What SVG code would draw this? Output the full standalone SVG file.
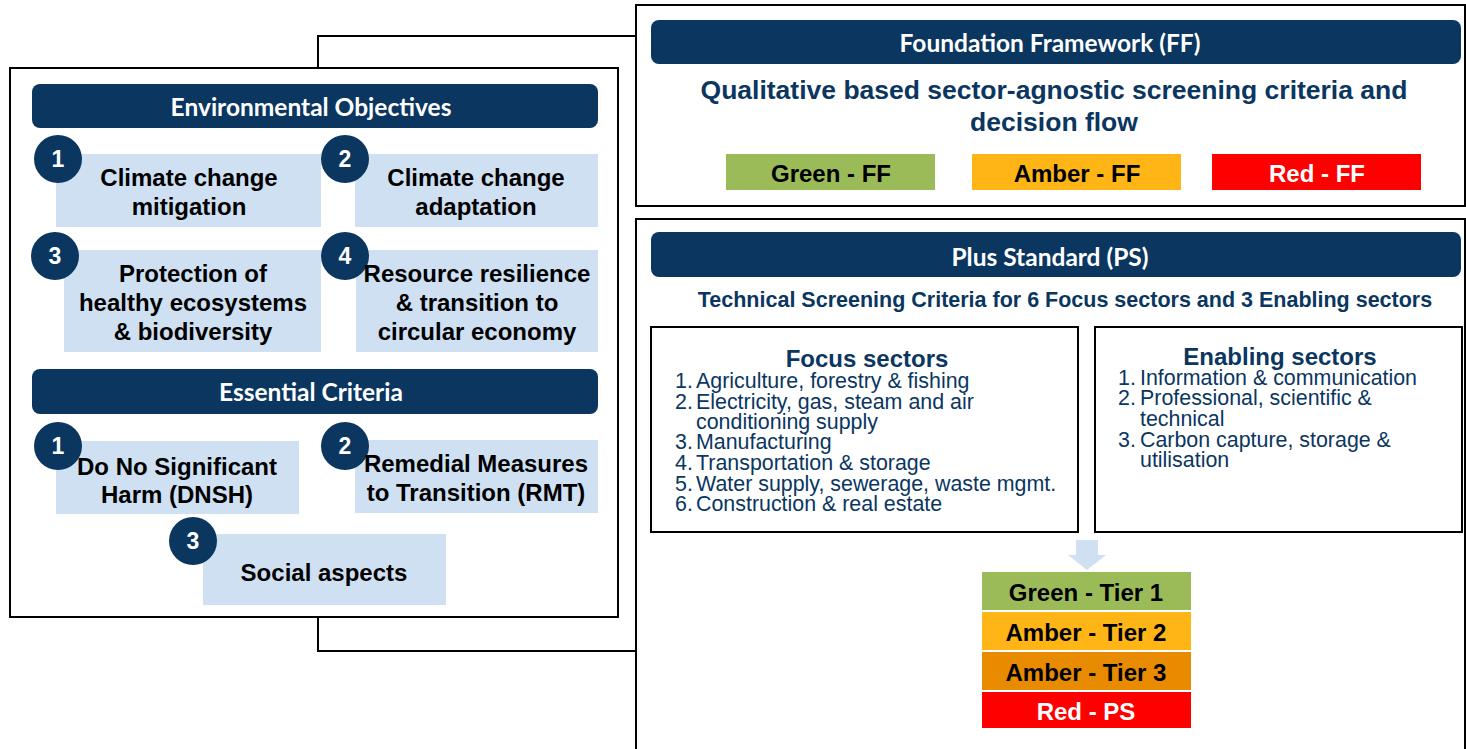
<svg xmlns="http://www.w3.org/2000/svg" width="1466" height="749" viewBox="0 0 1466 749">
<defs>
<style>
.frame{fill:#fff;stroke:#000;stroke-width:2}
.hdr{fill:#0a365f}
.hdrt{font-family:Lato,"Open Sans",sans-serif;font-weight:700;font-size:24.5px;fill:#fff;text-anchor:middle;dominant-baseline:central}
.lb{fill:#cfe0f2}
.num{fill:#0a365f}
.numt{font-family:"Liberation Sans",Arial,sans-serif;font-weight:700;font-size:23px;fill:#fff;text-anchor:middle;dominant-baseline:central}
.bt{font-family:"Liberation Sans",Arial,sans-serif;font-weight:700;font-size:24px;fill:#000;text-anchor:middle;dominant-baseline:central}
.nv{font-family:"Liberation Sans",Arial,sans-serif;font-weight:700;fill:#0a365f;text-anchor:middle;dominant-baseline:central}
.li{font-family:"Liberation Sans",Arial,sans-serif;font-size:21.4px;fill:#0a365f;dominant-baseline:central}
.tt{font-family:"Liberation Sans",Arial,sans-serif;font-weight:700;font-size:24px;text-anchor:middle;dominant-baseline:central}
.conn{fill:none;stroke:#000;stroke-width:2}
</style>
</defs>
<rect width="1466" height="749" fill="#fff"/>

<g id="connectors">
<polyline class="conn" points="318,68 318,36 636,36"/>
<polyline class="conn" points="318,617 318,651 636,651"/>
</g>

<g id="left-panel">
<rect class="frame" x="10" y="68" width="608" height="549"/>
</g>

<g id="env-objectives-header">
<rect class="hdr" x="32" y="84" width="566" height="44" rx="8"/>
<text class="hdrt" x="311" y="106">Environmental Objectives</text>
</g>

<g id="eo1">
<rect class="lb" x="56" y="154" width="265" height="73"/>
<circle class="num" cx="58" cy="159" r="24"/>
<text class="numt" x="58" y="159">1</text>
<text class="bt" x="189" y="177">Climate change</text>
<text class="bt" x="189" y="206">mitigation</text>
</g>

<g id="eo2">
<rect class="lb" x="355" y="154" width="243" height="73"/>
<circle class="num" cx="345" cy="159" r="24"/>
<text class="numt" x="345" y="159">2</text>
<text class="bt" x="476" y="177">Climate change</text>
<text class="bt" x="476" y="206">adaptation</text>
</g>

<g id="eo3">
<rect class="lb" x="64" y="250" width="257" height="102"/>
<circle class="num" cx="55" cy="256" r="24"/>
<text class="numt" x="55" y="256">3</text>
<text class="bt" x="193" y="273">Protection of</text>
<text class="bt" x="193" y="302">healthy ecosystems</text>
<text class="bt" x="193" y="331">&amp; biodiversity</text>
</g>

<g id="eo4">
<rect class="lb" x="356" y="250" width="242" height="102"/>
<circle class="num" cx="345" cy="256" r="24"/>
<text class="numt" x="345" y="256">4</text>
<text class="bt" x="477" y="273">Resource resilience</text>
<text class="bt" x="477" y="302">&amp; transition to</text>
<text class="bt" x="477" y="331">circular economy</text>
</g>

<g id="essential-criteria-header">
<rect class="hdr" x="32" y="369" width="566" height="45" rx="8"/>
<text class="hdrt" x="311" y="391">Essential Criteria</text>
</g>

<g id="ec1">
<rect class="lb" x="56" y="441" width="243" height="73"/>
<circle class="num" cx="58" cy="446" r="24"/>
<text class="numt" x="58" y="446">1</text>
<text class="bt" x="177" y="466">Do No Significant</text>
<text class="bt" x="177" y="494">Harm (DNSH)</text>
</g>

<g id="ec2">
<rect class="lb" x="355" y="440" width="243" height="73"/>
<circle class="num" cx="345" cy="446" r="24"/>
<text class="numt" x="345" y="446">2</text>
<text class="bt" x="476" y="463">Remedial Measures</text>
<text class="bt" x="476" y="492">to Transition (RMT)</text>
</g>

<g id="ec3">
<rect class="lb" x="203" y="534" width="243" height="71"/>
<circle class="num" cx="193" cy="541" r="24"/>
<text class="numt" x="193" y="541">3</text>
<text class="bt" x="324" y="572">Social aspects</text>
</g>

<g id="foundation-framework">
<rect class="frame" x="636" y="5" width="829" height="201"/>
<rect class="hdr" x="651" y="20" width="810" height="44" rx="8"/>
<text class="hdrt" x="1050" y="42">Foundation Framework (FF)</text>
<text class="nv" x="1054" y="90" font-size="26.5">Qualitative based sector-agnostic screening criteria and</text>
<text class="nv" x="1054" y="122" font-size="26.5">decision flow</text>
</g>

<g id="ff-green">
<rect x="726" y="154" width="209" height="36" fill="#9bbb59"/>
<text class="tt" x="831" y="173" fill="#000">Green - FF</text>
</g>
<g id="ff-amber">
<rect x="972" y="154" width="209" height="36" fill="#ffb515"/>
<text class="tt" x="1077" y="173" fill="#000">Amber - FF</text>
</g>
<g id="ff-red">
<rect x="1212" y="154" width="209" height="36" fill="#ff0000"/>
<text class="tt" x="1317" y="173" fill="#fff">Red - FF</text>
</g>

<g id="plus-standard">
<rect class="frame" x="636" y="219" width="829" height="545"/>
<rect class="hdr" x="651" y="232" width="810" height="45" rx="8"/>
<text class="hdrt" x="1050" y="256">Plus Standard (PS)</text>
<text class="nv" x="1065" y="300" font-size="21.5">Technical Screening Criteria for 6 Focus sectors and 3 Enabling sectors</text>
</g>

<g id="focus-sectors">
<rect class="frame" x="651" y="327" width="427" height="205"/>
<text class="nv" x="867" y="358" font-size="24">Focus sectors</text>
<text class="li" x="675" y="381">1.</text><text class="li" x="696" y="381">Agriculture, forestry &amp; fishing</text>
<text class="li" x="675" y="402">2.</text><text class="li" x="696" y="402">Electricity, gas, steam and air</text>
<text class="li" x="696" y="422">conditioning supply</text>
<text class="li" x="675" y="442">3.</text><text class="li" x="696" y="442">Manufacturing</text>
<text class="li" x="675" y="463">4.</text><text class="li" x="696" y="463">Transportation &amp; storage</text>
<text class="li" x="675" y="484">5.</text><text class="li" x="696" y="484">Water supply, sewerage, waste mgmt.</text>
<text class="li" x="675" y="504">6.</text><text class="li" x="696" y="504">Construction &amp; real estate</text>
</g>

<g id="enabling-sectors">
<rect class="frame" x="1095" y="327" width="367" height="205"/>
<text class="nv" x="1280" y="356" font-size="24">Enabling sectors</text>
<text class="li" x="1118" y="378">1.</text><text class="li" x="1140" y="378">Information &amp; communication</text>
<text class="li" x="1118" y="398">2.</text><text class="li" x="1140" y="398">Professional, scientific &amp;</text>
<text class="li" x="1140" y="419">technical</text>
<text class="li" x="1118" y="440">3.</text><text class="li" x="1140" y="440">Carbon capture, storage &amp;</text>
<text class="li" x="1140" y="460">utilisation</text>
</g>

<g id="down-arrow">
<polygon points="1076,540 1098,540 1098,555 1106,555 1087,570 1068,555 1076,555" fill="#cfe0f2"/>
</g>

<g id="tier1">
<rect x="982" y="572" width="209" height="38" fill="#9bbb59"/>
<text class="tt" x="1086" y="592" fill="#000">Green - Tier 1</text>
</g>
<g id="tier2">
<rect x="982" y="612" width="209" height="38" fill="#ffb515"/>
<text class="tt" x="1086" y="632" fill="#000">Amber - Tier 2</text>
</g>
<g id="tier3">
<rect x="982" y="652" width="209" height="38" fill="#e98b00"/>
<text class="tt" x="1086" y="672" fill="#000">Amber - Tier 3</text>
</g>
<g id="red-ps">
<rect x="982" y="692" width="209" height="36" fill="#ff0000"/>
<text class="tt" x="1086" y="711" fill="#fff">Red - PS</text>
</g>
</svg>
